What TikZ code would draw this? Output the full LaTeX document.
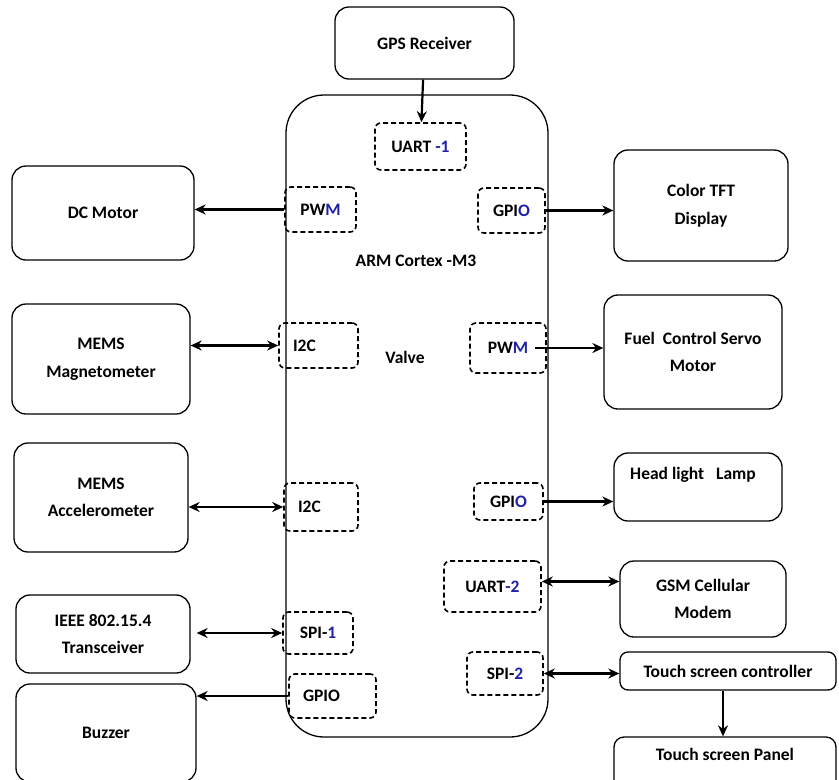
\documentclass[tikz,border=0pt]{standalone}
\usepackage{fontspec}
\setmainfont{Carlito}
\usepackage{tikz}
\usetikzlibrary{arrows.meta,positioning}
\definecolor{portblue}{RGB}{32,32,168}

\begin{document}
\begin{tikzpicture}[
    x=1pt, y=-1pt,
    font=\fontsize{17.5}{27.5}\selectfont\bfseries,
    block/.style={rectangle, draw=black, line width=1.3pt, rounded corners=14pt, align=center, inner sep=0pt},
    mcu/.style={rectangle, draw=black, line width=1.3pt, rounded corners=38pt},
    port/.style={rectangle, draw=black, line width=1.6pt, dash pattern=on 5pt off 3pt, rounded corners=6pt, inner sep=0pt},
    lport/.style={port, align=left, inner xsep=14pt},
    txt/.style={inner sep=0pt},
    arrow/.style={-{Stealth[length=11pt,width=10pt]}, line width=2.2pt},
    arrow2/.style={{Stealth[length=11pt,width=10pt]}-{Stealth[length=11pt,width=10pt]}, line width=2.2pt}
]
    \useasboundingbox (0,0) rectangle (839,780);

    % controller
    \node[mcu, minimum width=262pt, minimum height=642pt] (arm) at (417,416) {};
    \node[txt] (armname) at (416,261) {ARM Cortex -M3};
    \node[txt] (valve) at (405,357) {Valve};

    % ports
    \node[port, minimum width=91pt, minimum height=47pt] (uart1) at (420.5,146.5) {UART {\color{portblue}-1}};
    \node[port, minimum width=71pt, minimum height=45pt] (pwmA) at (320.5,209.5) {PW{\color{portblue}M}};
    \node[port, minimum width=67pt, minimum height=45pt] (gpioA) at (511.5,210.5) {GPI{\color{portblue}O}};
    \node[lport, text width=51pt, minimum height=45pt] (i2cA) at (318.5,345.5) {I2C};
    \node[port, minimum width=76pt, minimum height=50pt] (pwmB) at (508,348) {PW{\color{portblue}M}};
    \node[lport, text width=46pt, minimum height=48pt] (i2cB) at (321,507) {I2C};
    \node[port, minimum width=69pt, minimum height=37pt] (gpioB) at (508.5,501.5) {GPI{\color{portblue}O}};
    \node[port, minimum width=97pt, minimum height=51pt] (uart2) at (492.5,586.5) {UART{\color{portblue}-2}};
    \node[port, minimum width=70pt, minimum height=42pt] (spiA) at (318,633) {SPI-{\color{portblue}1}};
    \node[port, minimum width=76pt, minimum height=43pt] (spiB) at (505,673.5) {SPI-{\color{portblue}2}};
    \node[lport, text width=59pt, minimum height=44pt] (gpioC) at (332.5,696) {GPIO};

    % peripherals
    \node[block, minimum width=179pt, minimum height=72pt] (gps) at (424.5,43) {GPS Receiver};
    \node[block, minimum width=182pt, minimum height=94pt] (dc) at (103,213) {DC Motor};
    \node[block, minimum width=174pt, minimum height=111pt] (tft) at (701,205.5) {Color TFT\\Display};
    \node[block, minimum width=178pt, minimum height=110pt] (mag) at (101,359) {MEMS\\Magnetometer};
    \node[block, minimum width=178pt, minimum height=114pt] (fuel) at (693,352) {Fuel~ Control Servo\\Motor};
    \node[block, minimum width=174pt, minimum height=109pt] (acc) at (101,497.5) {MEMS\\Accelerometer};
    \node[block, minimum width=168pt, minimum height=68pt,
          label={[txt, anchor=north, yshift=-15pt, xshift=-5pt]north:Head light~~ Lamp}] (lamp) at (698,487) {};
    \node[block, minimum width=166pt, minimum height=76pt] (gsm) at (703,599) {GSM Cellular\\Modem};
    \node[block, minimum width=174pt, minimum height=78pt] (ieee) at (103,634) {IEEE 802.15.4\\Transceiver};
    \node[block, minimum width=216pt, minimum height=38pt, rounded corners=8pt] (ctrl) at (728,671) {Touch screen controller};
    \node[block, minimum width=222pt, minimum height=63pt, rounded corners=10pt,
          label={[txt, anchor=north, yshift=-12pt]north:Touch screen Panel}] (panel) at (725,768.5) {};
    \node[block, minimum width=180pt, minimum height=98pt] (buzzer) at (106,733) {Buzzer};

    % links
    \draw[arrow] (gps) -- (uart1);
    \draw[arrow] (pwmA.west) -- (dc.east |- pwmA.west);
    \draw[arrow] (gpioA.east) -- (tft.west |- gpioA.east);
    \draw[arrow2] (mag.east |- i2cA.west) -- (i2cA.west);
    \draw[arrow] ([xshift=-12pt]pwmB.east) -- (fuel.west |- pwmB.east);
    \draw[arrow2] (acc.east |- i2cB.west) -- (i2cB.west);
    \draw[arrow] (gpioB.east) -- (lamp.west |- gpioB.east);
    \draw[arrow2] ([yshift=5pt]uart2.east) -- ([yshift=5pt]uart2.east -| gsm.west);
    \draw[arrow2] ([xshift=6pt]ieee.east |- spiA.west) -- (spiA.west);
    \draw[arrow2] (spiB.east) -- (ctrl.west |- spiB.east);
    \draw[arrow] (gpioC.west) -- (buzzer.east |- gpioC.west);
    \draw[arrow] ([xshift=-5pt]ctrl.south) -- ([xshift=-5pt]ctrl.south |- panel.north);
\end{tikzpicture}
\end{document}
